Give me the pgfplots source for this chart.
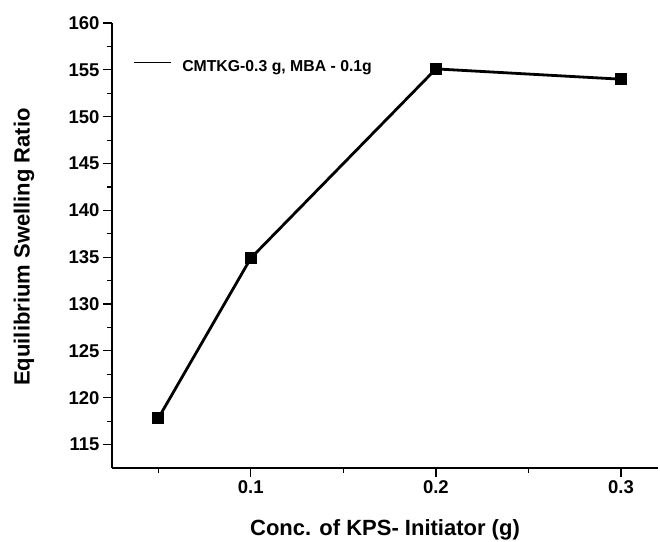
\documentclass[border=0pt]{standalone}
\usepackage{pgfplots}
\pgfplotsset{compat=1.18}
\usepackage{fontspec}
\setmainfont{Liberation Sans}
\begin{document}
\begin{tikzpicture}
\useasboundingbox (-112bp,-74bp) rectangle (548bp,468bp);
\begin{axis}[
  at={(0,0)}, anchor=south west,
  scale only axis, width=546bp, height=445bp,
  xmin=0.025, xmax=0.32, ymin=112.5, ymax=160,
  axis x line*=bottom, axis y line*=left,
  axis line style={line width=1.2bp, -},
  tick align=outside,
  xtick={0.1,0.2,0.3}, xticklabels={0.1,0.2,0.3},
  minor xtick={0.05,0.15,0.25},
  ytick={115,120,...,160},
  minor ytick={117.5,122.5,...,157.5},
  major tick length=9bp, minor tick length=4.5bp,
  every tick/.style={black, line width=1.2bp},
  /pgf/number format/assume math mode=true,
  tick label style={font=\bfseries\fontsize{18.5bp}{18.5bp}\selectfont},
  xlabel={Conc. of KPS- Initiator (g)},
  ylabel={Equilibrium Swelling Ratio},
  xlabel style={at={(axis description cs:0.5,-0.1393)}, anchor=center, inner sep=0pt, font=\bfseries\fontsize{22bp}{22bp}\selectfont},
  ylabel style={at={(axis description cs:-0.1612,0.4966)}, anchor=center, inner sep=0pt, font=\bfseries\fontsize{22bp}{22bp}\selectfont},
  legend style={at={(axis description cs:0.0385,0.9027)}, anchor=west, draw=none, fill=none, inner sep=0pt,
    font=\bfseries\fontsize{15.8bp}{15.8bp}\selectfont, nodes={inner sep=0pt}},
  legend image code/.code={\draw[black, line width=1.3bp] (0bp,4bp) -- (37bp,4bp); \path (47bp,0bp);},
]
\addplot[black, line width=2.8bp, mark=square*, mark size=4.5bp, mark options={solid}]
  coordinates {(0.05,117.8) (0.1,134.9) (0.2,155.1) (0.3,154.0)};
\addlegendentry{CMTKG-0.3 g, MBA - 0.1g}
\end{axis}
\end{tikzpicture}
\end{document}
